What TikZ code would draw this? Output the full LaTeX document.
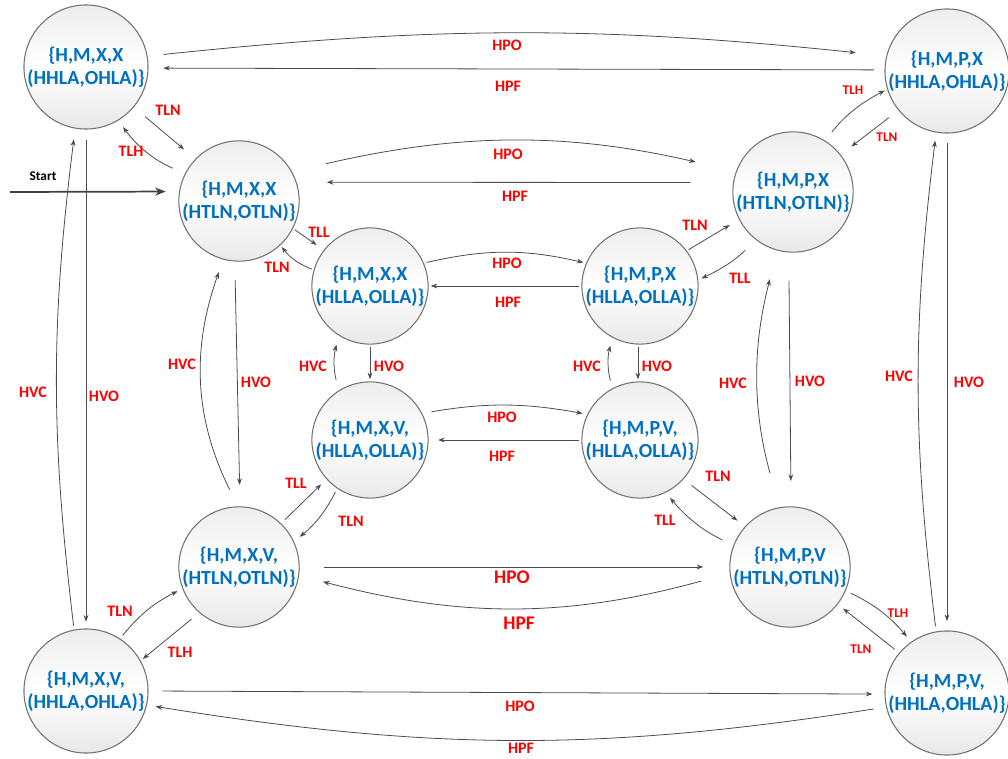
\documentclass[tikz,border=0pt]{standalone}
\usepackage{fontspec}
\setmainfont{Carlito}
\usetikzlibrary{arrows.meta}

\definecolor{azul}{RGB}{0,112,192}
\definecolor{vermelho}{RGB}{255,0,0}

\tikzset{
  estado/.style={circle, draw=black!55, line width=0.8pt, top color=black!7, bottom color=black!9,
    middle color=white, minimum size=90pt, inner sep=0pt, align=center, text=azul,
    font=\bfseries\fontsize{15}{17.5}\selectfont},
  estadoint/.style={estado, minimum size=85.5pt},
  rotulo/.style={text=vermelho, inner sep=0pt, font=\bfseries\fontsize{12}{12}\selectfont},
  rotulop/.style={rotulo, font=\bfseries\fontsize{10}{10}\selectfont},
  rotulog/.style={rotulo, font=\bfseries\fontsize{14.5}{14.5}\selectfont},
  trans/.style={->, draw=black!70, line width=0.6pt, shorten >=1.5pt, shorten <=1.5pt},
}

\begin{document}
\begin{tikzpicture}[>={Stealth[length=5pt,width=3.6pt]}, x=0.75pt, y=0.75pt]
    \useasboundingbox (0,0) rectangle (1008,-759);

    % estados
    \node[estado] (hmxx-hh) at (86,-67) {\{H,M,X,X\\(HHLA,OHLA)\}};
    \node[estado] (hmpx-hh) at (947,-71) {\{H,M,P,X\\(HHLA,OHLA)\}};
    \node[estado] (hmxx-ht) at (239,-201) {\{H,M,X,X\\(HTLN,OTLN)\}};
    \node[estado] (hmpx-ht) at (793,-192) {\{H,M,P,X\\(HTLN,OTLN)\}};
    \node[estadoint] (hmxx-hl) at (370,-286) {\{H,M,X,X\\(HLLA,OLLA)\}};
    \node[estadoint] (hmpx-hl) at (640,-286) {\{H,M,P,X\\(HLLA,OLLA)\}};
    \node[estadoint] (hmxv-hl) at (370,-440) {\{H,M,X,V,\\(HLLA,OLLA)\}};
    \node[estadoint] (hmpv-hl) at (640,-440) {\{H,M,P,V,\\(HLLA,OLLA)\}};
    \node[estado] (hmxv-ht) at (239,-567) {\{H,M,X,V,\\(HTLN,OTLN)\}};
    \node[estado] (hmpv-ht) at (790,-567) {\{H,M,P,V\\(HTLN,OTLN)\}};
    \node[estado] (hmxv-hh) at (86,-691) {\{H,M,X,V,\\(HHLA,OHLA)\}};
    \node[estado] (hmpv-hh) at (947,-693) {\{H,M,P,V,\\(HHLA,OHLA)\}};

    % entrada
    \coordinate (inicio) at (10,-192);
    \draw[->, draw=black!75, line width=1.3pt, >={Stealth[length=8pt,width=6pt]}, shorten >=10pt]
        (inicio) -- (hmxx-ht.171);
    \node[font=\bfseries\fontsize{10}{10}\selectfont, inner sep=0pt] (start) at (43,-176) {Start};

    % HPO / HPF
    \draw[trans, shorten <=12pt, shorten >=23pt] (hmxx-hh.10.6) to[bend left=6] (hmpx-hh.166.5);
    \draw[trans, shorten <=8pt, shorten >=11pt] (hmpx-hh.179) -- (hmxx-hh.-1);
    \draw[trans, shorten <=26pt, shorten >=31pt] (hmxx-ht.29.4) to[bend left=13] (hmpx-ht.160.2);
    \draw[trans, shorten <=32pt, shorten >=22.5pt] (hmpx-ht.171) -- (hmxx-ht.18);
    \draw[trans, shorten <=2pt, shorten >=2pt] (hmxx-hl.23.8) to[bend left=13] (hmpx-hl.157.3);
    \draw[trans] (hmpx-hl.180) -- (hmxx-hl.0);
    \draw[trans, shorten <=7pt, shorten >=3.5pt] (hmxv-hl.27) to[bend left=10] (hmpv-hl.154);
    \draw[trans, shorten >=7pt] (hmpv-hl.180) -- (hmxv-hl.0);
    \draw[trans, shorten <=18pt, shorten >=19.5pt] (hmxv-ht.0) -- (hmpv-ht.180);
    \draw[trans, shorten <=22pt, shorten >=18.5pt] (hmpv-ht.186.7) to[bend left=15] (hmxv-ht.-8.6);
    \draw[trans, shorten <=10.5pt, shorten >=9pt] (hmxv-hh.0) -- (hmpv-hh.181);
    \draw[trans, shorten <=9.5pt, shorten >=6.5pt] (hmpv-hh.193.5) to[bend left=9] (hmxv-hh.-13.5);

    \node[rotulo] (hpo1) at (507,-45) {HPO};
    \node[rotulo] (hpf1) at (508,-86) {HPF};
    \node[rotulo] (hpo2) at (508,-154) {HPO};
    \node[rotulo] (hpf2) at (515,-196) {HPF};
    \node[rotulo] (hpo3) at (507,-263) {HPO};
    \node[rotulo] (hpf3) at (508,-302) {HPF};
    \node[rotulo] (hpo4) at (502,-417) {HPO};
    \node[rotulo] (hpf4) at (502,-456) {HPF};
    \node[rotulog] (hpo5) at (512,-577) {HPO};
    \node[rotulog] (hpf5) at (519,-623) {HPF};
    \node[rotulo] (hpo6) at (520,-706) {HPO};
    \node[rotulo] (hpf6) at (521,-748) {HPF};

    % HVO / HVC
    \draw[trans, shorten <=3pt, shorten >=8pt] (hmxv-hh.101) to[bend left=7] (hmxx-hh.-100);
    \draw[trans, shorten <=8pt, shorten >=5pt] (hmxx-hh.-90) -- (hmxv-hh.90);
    \draw[trans, shorten <=14pt, shorten >=10pt] (hmxv-ht.91.5) to[bend left=23] (hmxx-ht.-105);
    \draw[trans, shorten <=14pt, shorten >=16pt] (hmxx-ht.-94) -- (hmxv-ht.89);
    \draw[trans, shorten <=8pt, shorten >=7pt] (hmxv-hl.122) to[bend left=15] (hmxx-hl.-122);
    \draw[trans] (hmxx-hl.-90) -- (hmxv-hl.90);
    \draw[trans, shorten <=6pt, shorten >=6pt] (hmpv-hl.118) to[bend left=15] (hmpx-hl.-118);
    \draw[trans] (hmpx-hl.-92) -- (hmpv-hl.92);
    \draw[trans, shorten <=26.5pt, shorten >=22pt] (hmpv-ht.100) to[bend left=15] (hmpx-ht.-105);
    \draw[trans, shorten <=21pt, shorten >=19pt] (hmpx-ht.-94) -- (hmpv-ht.89);
    \draw[trans, shorten <=4pt, shorten >=6pt] (hmpv-hh.100) to[bend left=7] (hmpx-hh.-100);
    \draw[trans, shorten <=7pt, shorten >=7pt] (hmpx-hh.-90) -- (hmpv-hh.90);

    \node[rotulo] (hvc1) at (33,-392) {HVC};
    \node[rotulo] (hvo1) at (104,-396) {HVO};
    \node[rotulo] (hvc2) at (182,-364) {HVC};
    \node[rotulo] (hvo2) at (256,-382) {HVO};
    \node[rotulo] (hvc3) at (313,-366) {HVC};
    \node[rotulo] (hvo3) at (389,-366) {HVO};
    \node[rotulo] (hvc4) at (587,-366) {HVC};
    \node[rotulo] (hvo4) at (657,-366) {HVO};
    \node[rotulo] (hvc5) at (733,-383) {HVC};
    \node[rotulo] (hvo5) at (810,-381) {HVO};
    \node[rotulo] (hvc6) at (899,-376) {HVC};
    \node[rotulo] (hvo6) at (969,-382) {HVO};

    % TLN / TLH / TLL
    \draw[trans, shorten <=11pt, shorten >=11pt] (hmxx-hh.-40) -- (hmxx-ht.136);
    \draw[trans, shorten <=10pt, shorten >=6pt] (hmxx-ht.153) to[bend left=15] (hmxx-hh.-59);
    \draw[trans, shorten >=6.5pt] (hmxx-ht.-27) -- (hmxx-hl.142);
    \draw[trans] (hmxx-hl.164) to[bend left=15] (hmxx-ht.-47);
    \draw[trans, shorten <=8pt, shorten >=2pt] (hmpx-ht.58) to[bend left=12] (hmpx-hh.197);
    \draw[trans, shorten <=9pt, shorten >=10pt] (hmpx-hh.-141) -- (hmpx-ht.38);
    \draw[trans, shorten >=8pt] (hmpx-hl.37) -- (hmpx-ht.207);
    \draw[trans, shorten <=11pt, shorten >=2.5pt] (hmpx-ht.-128) to[bend left=10] (hmpx-hl.6);
    \draw[trans, shorten <=4pt, shorten >=5.5pt] (hmxv-ht.46) -- (hmxv-hl.-138);
    \draw[trans, shorten <=3pt, shorten >=5.5pt] (hmxv-hl.-124) to[bend left=12] (hmxv-ht.25);
    \draw[trans, shorten <=7.5pt, shorten >=7pt] (hmpv-hl.-42) -- (hmpv-ht.138);
    \draw[trans, shorten <=9pt, shorten >=5pt] (hmpv-ht.159) to[bend left=12] (hmpv-hl.-64);
    \draw[trans, shorten <=3pt, shorten >=4pt] (hmxv-hh.57) to[bend left=12] (hmxv-ht.201);
    \draw[trans, shorten <=7.5pt, shorten >=2pt] (hmxv-ht.-131) -- (hmxv-hh.29);
    \draw[trans, shorten <=4pt, shorten >=5pt] (hmpv-ht.-23) to[bend left=12] (hmpv-hh.125);
    \draw[trans, shorten <=4pt, shorten >=5pt] (hmpv-hh.140) -- (hmpv-ht.-38);

    \node[rotulo] (tln1) at (168,-110) {TLN};
    \node[rotulo] (tlh1) at (131,-151) {TLH};
    \node[rotulo] (tll1) at (319,-232) {TLL};
    \node[rotulo] (tln2) at (277,-267) {TLN};
    \node[rotulop] (tlh2) at (853,-90) {TLH};
    \node[rotulop] (tln3) at (887,-137) {TLN};
    \node[rotulo] (tln4) at (695,-225) {TLN};
    \node[rotulo] (tll2) at (740,-278) {TLL};
    \node[rotulo] (tll3) at (296,-483) {TLL};
    \node[rotulo] (tln5) at (351,-521) {TLN};
    \node[rotulo] (tln6) at (718,-476) {TLN};
    \node[rotulo] (tll4) at (665,-520) {TLL};
    \node[rotulo] (tln7) at (120,-611) {TLN};
    \node[rotulo] (tlh3) at (180,-652) {TLH};
    \node[rotulop] (tlh4) at (898,-613) {TLH};
    \node[rotulop] (tln8) at (861,-649) {TLN};

\end{tikzpicture}
\end{document}
